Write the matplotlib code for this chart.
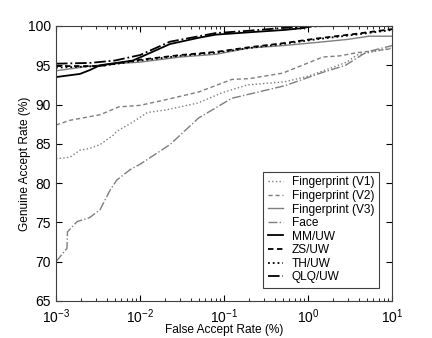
import numpy as np
import matplotlib
matplotlib.use('Agg')
import matplotlib.pyplot as plt

plt.rcParams['font.family'] = ['Liberation Sans', 'DejaVu Sans']
plt.rcParams['mathtext.default'] = 'regular'

# ROC curves: false accept rate (%) vs genuine accept rate (%)
far_v1 = [0.001, 0.00147, 0.00193, 0.0025, 0.00334, 0.0048, 0.0053, 0.0080, 0.0123, 0.02, 0.049, 0.095, 0.19, 0.53, 1.0, 2.9, 3.8, 10]
gar_v1 = [83.1, 83.3, 84.2, 84.4, 84.9, 86.1, 86.6, 87.7, 89.0, 89.3, 90.2, 91.5, 92.5, 92.9, 93.6, 95.4, 96.3, 97.2]

far_v2 = [0.001, 0.00147, 0.00334, 0.0056, 0.01, 0.02, 0.05, 0.124, 0.2, 0.5, 1.5, 2.4, 3.8, 10]
gar_v2 = [87.4, 88.0, 88.7, 89.7, 89.9, 90.6, 91.6, 93.2, 93.3, 94.0, 96.05, 96.2, 96.6, 97.1]

far_v3 = [0.001, 0.00254, 0.005, 0.01, 0.03, 0.08, 0.2, 0.5, 1.25, 3.0, 5.3, 10]
gar_v3 = [94.3, 94.9, 95.2, 95.4, 96.05, 96.4, 97.2, 97.5, 97.9, 98.3, 98.7, 98.7]

far_face = [0.001, 0.00135, 0.00137, 0.00178, 0.0025, 0.00334, 0.0044, 0.0053, 0.0076, 0.01, 0.0227, 0.05, 0.124, 0.53, 1.5, 2.8, 3.8, 5.0, 10]
gar_face = [70.0, 71.7, 73.8, 75.1, 75.6, 76.6, 79.1, 80.4, 81.7, 82.4, 84.9, 88.3, 90.8, 92.4, 94.1, 95.0, 95.9, 96.7, 97.5]

far_mm = [0.001, 0.00193, 0.00254, 0.00334, 0.0082, 0.01, 0.0227, 0.05, 0.08, 0.2, 0.53, 0.9, 1.1, 10]
gar_mm = [93.5, 93.9, 94.4, 95.0, 95.6, 96.0, 97.7, 98.5, 98.9, 99.2, 99.5, 99.75, 100.0, 100.0]

far_zs = [0.001, 0.00334, 0.01, 0.03, 0.08, 0.2, 0.5, 1.25, 3.7, 10]
gar_zs = [94.9, 94.9, 95.7, 96.3, 96.7, 97.3, 97.8, 98.4, 99.0, 99.6]

far_th = [0.001, 0.00334, 0.01, 0.03, 0.08, 0.2, 0.5, 1.25, 3.7, 10]
gar_th = [94.7, 94.9, 95.6, 96.2, 96.6, 97.2, 97.7, 98.3, 98.9, 99.5]

far_qlq = [0.001, 0.00254, 0.005, 0.01, 0.0227, 0.08, 0.2, 0.5, 1.6, 10]
gar_qlq = [95.2, 95.3, 95.6, 96.3, 98.0, 99.1, 99.4, 99.75, 100.0, 100.0]

labels = ['Fingerprint (V1)', 'Fingerprint (V2)', 'Fingerprint (V3)', 'Face',
          'MM/UW', 'ZS/UW', 'TH/UW', 'QLQ/UW']

fig = plt.figure(figsize=(4.32, 3.38), dpi=100)
ax = fig.add_axes([0.1296, 0.1095, 0.7778, 0.8136])

gray = '#7f7f7f'
ax.semilogx(far_v1, gar_v1, color=gray, ls=':', lw=1.0, label=labels[0])
ax.semilogx(far_v2, gar_v2, color=gray, ls='--', lw=1.0, dashes=(3, 2), label=labels[1])
ax.semilogx(far_v3, gar_v3, color=gray, ls='-', lw=1.0, label=labels[2])
ax.semilogx(far_face, gar_face, color=gray, ls='-.', lw=1.0, label=labels[3])
ax.semilogx(far_mm, gar_mm, color='black', ls='-', lw=1.3, label=labels[4])
ax.semilogx(far_zs, gar_zs, color='black', ls='--', lw=1.3, dashes=(3, 2), label=labels[5])
ax.semilogx(far_th, gar_th, color='black', ls=':', lw=1.3, label=labels[6])
ax.semilogx(far_qlq, gar_qlq, color='black', ls='-.', lw=1.3, label=labels[7])

ax.set_xlim(1e-3, 10)
ax.set_ylim(65, 100)
ax.set_yticks(np.arange(65, 101, 5))
ax.tick_params(which='both', direction='in', top=True, right=True, labelsize=10)
ax.tick_params(which='major', length=4)
ax.tick_params(which='minor', length=2)
ax.tick_params(axis='x', which='major', pad=4.5)
for s in ax.spines.values():
    s.set_color('#404040')

ax.set_xlabel('False Accept Rate (%)', fontsize=8.6, labelpad=-1)
ax.set_ylabel('Genuine Accept Rate (%)', fontsize=8.6, labelpad=-2)

leg = ax.legend(loc='lower right', bbox_to_anchor=(0.961, 0.047), borderaxespad=0,
                fontsize=8.6, handlelength=1.3, handletextpad=0.7, labelspacing=0.13,
                borderpad=0.4, fancybox=False, framealpha=1, edgecolor='#404040')
leg.get_frame().set_linewidth(0.8)

fig.savefig('out.png', dpi=100)
